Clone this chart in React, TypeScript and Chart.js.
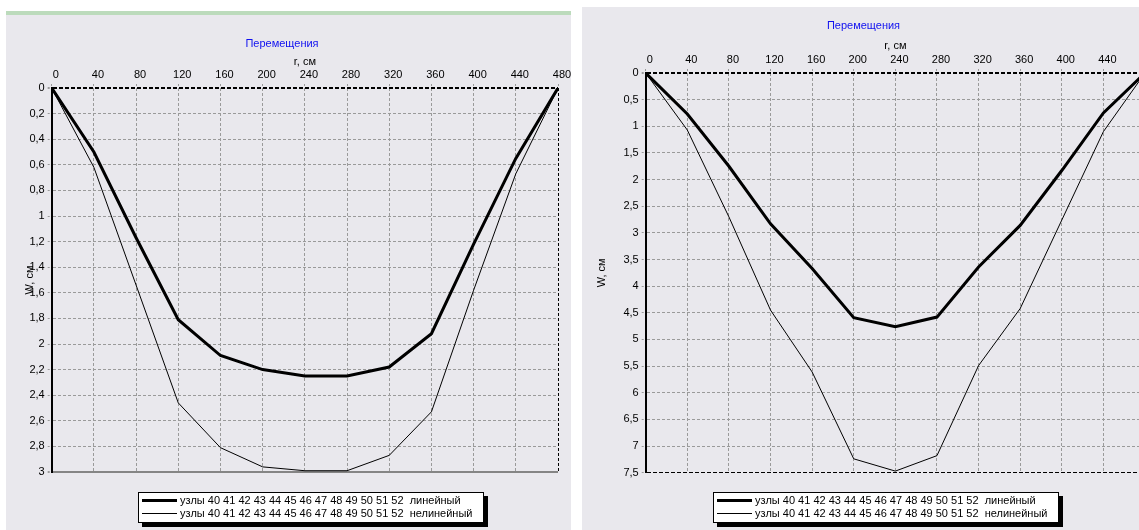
import React, { useEffect, useRef } from 'react';
import { Chart, registerables } from 'chart.js';

Chart.register(...registerables);

// ---------- data ----------
const rValues = [0, 40, 80, 120, 160, 200, 240, 280, 320, 360, 400, 440, 480];

const leftLinear = [0, 0.5, 1.17, 1.81, 2.09, 2.2, 2.25, 2.25, 2.18, 1.92, 1.22, 0.55, 0];
const leftNonlinear = [0, 0.62, 1.54, 2.46, 2.81, 2.96, 2.99, 2.99, 2.87, 2.53, 1.58, 0.67, 0];

const rightLinear = [0, 0.77, 1.75, 2.83, 3.67, 4.59, 4.76, 4.58, 3.64, 2.86, 1.83, 0.75, 0];
const rightNonlinear = [0, 1.07, 2.7, 4.45, 5.61, 7.24, 7.47, 7.18, 5.49, 4.42, 2.76, 1.1, 0];

const seriesNames = [
  'узлы 40 41 42 43 44 45 46 47 48 49 50 51 52  линейный',
  'узлы 40 41 42 43 44 45 46 47 48 49 50 51 52  нелинейный',
];
const chartTitle = 'Перемещения';
const xAxisTitle = 'r, см';
const yAxisTitle = 'W, см';

const xMax = 480;
const xStep = 40;
const leftYMax = 3;
const leftYStep = 0.2;
const rightYMax = 7.5;
const rightYStep = 0.5;

// ---------- styles ----------
const FONT_FAMILY = '"Liberation Sans", Arial, sans-serif';
const GRID_GRAY = '#9a9a9a';
const TITLE_BLUE = '#1010f0';
const PANEL_BG = '#e9e8ed';

const fmt = (v: number) => String(Math.round(v * 10) / 10).replace('.', ',');
const near = (a: number, b: number) => Math.abs(a - b) < 1e-6;

interface Params {
  linear: number[];
  nonlinear: number[];
  yMax: number;
  yStep: number;
  yAxisWidth: number;
  xAxisHeight: number;
  padRight: number;
  padBottom: number;
  titlePadTop: number;
  xTitlePadTop: number;
  yTitlePadTop: number;
  bottomColor: string;
  bottomWidth: number;
  bottomDash: number[];
}

function buildConfig(p: Params): any {
  const font = { family: FONT_FAMILY, size: 11, weight: 'normal' as const };
  return {
    type: 'line',
    data: {
      datasets: [
        {
          label: seriesNames[0],
          data: rValues.map((r, i) => ({ x: r, y: p.linear[i] })),
          borderColor: '#000',
          borderWidth: 3,
          pointRadius: 0,
          tension: 0,
          fill: false,
        },
        {
          label: seriesNames[1],
          data: rValues.map((r, i) => ({ x: r, y: p.nonlinear[i] })),
          borderColor: '#000',
          borderWidth: 1,
          pointRadius: 0,
          tension: 0,
          fill: false,
        },
      ],
    },
    options: {
      animation: false,
      responsive: false,
      devicePixelRatio: 1,
      layout: { padding: { left: 0, top: 0, right: p.padRight, bottom: p.padBottom } },
      plugins: {
        legend: { display: false },
        tooltip: { enabled: false },
        title: {
          display: true,
          text: chartTitle,
          color: TITLE_BLUE,
          font,
          padding: { top: p.titlePadTop, bottom: 0 },
        },
      },
      scales: {
        x: {
          type: 'linear',
          position: 'top',
          min: 0,
          max: xMax,
          afterFit: (s: any) => {
            s.height = p.xAxisHeight;
            s.paddingLeft = 0;
            s.paddingRight = 0;
          },
          ticks: {
            stepSize: xStep,
            color: '#000',
            font,
            padding: 2.5,
            labelOffset: 4,
            autoSkip: false,
            maxRotation: 0,
            callback: (v: number) => String(v),
          },
          grid: {
            color: (c: any) => (c.tick && near(c.tick.value, xMax) ? '#000' : GRID_GRAY),
            lineWidth: 1,
            tickLength: 4,
            tickColor: GRID_GRAY,
            tickBorderDash: [2, 2],
          },
          border: { display: false, dash: [3, 2] },
          title: {
            display: true,
            text: xAxisTitle,
            color: '#000',
            font,
            padding: { top: p.xTitlePadTop, bottom: 0 },
          },
        },
        y: {
          type: 'linear',
          position: 'left',
          reverse: true,
          min: 0,
          max: p.yMax,
          afterFit: (s: any) => {
            s.width = p.yAxisWidth;
            s.paddingTop = 0;
            s.paddingBottom = 0;
          },
          ticks: {
            stepSize: p.yStep,
            color: '#000',
            font,
            padding: 3,
            autoSkip: false,
            callback: (v: number) => fmt(v),
          },
          grid: {
            color: (c: any) => {
              if (!c.tick) return GRID_GRAY;
              if (near(c.tick.value, 0)) return '#000';
              if (near(c.tick.value, p.yMax)) return p.bottomColor;
              return GRID_GRAY;
            },
            lineWidth: (c: any) => {
              if (!c.tick) return 1;
              if (near(c.tick.value, 0)) return 2;
              if (near(c.tick.value, p.yMax)) return p.bottomWidth;
              return 1;
            },
            tickLength: 4,
            tickColor: GRID_GRAY,
            tickBorderDash: [2, 2],
          },
          border: {
            display: true,
            color: '#000',
            width: 2,
            dash: (c: any) => {
              if (!c.tick) return [3, 2];
              if (near(c.tick.value, 0)) return [4, 2];
              if (near(c.tick.value, p.yMax)) return p.bottomDash;
              return [3, 2];
            },
          },
          title: {
            display: true,
            text: yAxisTitle,
            color: '#000',
            font,
            padding: { top: p.yTitlePadTop, bottom: 0 },
          },
        },
      },
    },
  };
}

function Legend({ left }: { left: number }) {
  const row = (width: number, text: string) => (
    <div style={{ display: 'flex', alignItems: 'center', height: 13 }}>
      <div style={{ width: 35, height: width, background: '#000', marginLeft: 3, marginRight: 3 }} />
      <span style={{ whiteSpace: 'pre', lineHeight: '13px' }}>{text}</span>
    </div>
  );
  return (
    <div
      style={{
        position: 'absolute',
        left,
        top: 492,
        width: 346,
        height: 31,
        boxSizing: 'border-box',
        background: '#fff',
        border: '1px solid #000',
        boxShadow: '4px 4px 0 #000',
        font: `11px ${FONT_FAMILY}`,
        color: '#000',
        paddingTop: 1,
      }}
    >
      {row(3, seriesNames[0])}
      {row(1, seriesNames[1])}
    </div>
  );
}

export default function App() {
  const leftRef = useRef<HTMLCanvasElement>(null);
  const rightRef = useRef<HTMLCanvasElement>(null);

  useEffect(() => {
    const c1 = new Chart(
      leftRef.current as HTMLCanvasElement,
      buildConfig({
        linear: leftLinear,
        nonlinear: leftNonlinear,
        yMax: leftYMax,
        yStep: leftYStep,
        yAxisWidth: 45.7,
        xAxisHeight: 37.4,
        padRight: 18,
        padBottom: 58,
        titlePadTop: 22.4,
        xTitlePadTop: 4.8,
        yTitlePadTop: 17.4,
        bottomColor: '#858585',
        bottomWidth: 2,
        bottomDash: [],
      })
    );
    const c2 = new Chart(
      rightRef.current as HTMLCanvasElement,
      buildConfig({
        linear: rightLinear,
        nonlinear: rightNonlinear,
        yMax: rightYMax,
        yStep: rightYStep,
        yAxisWidth: 63.7,
        xAxisHeight: 40.7,
        padRight: 15,
        padBottom: 57.3,
        titlePadTop: 12.1,
        xTitlePadTop: 6.8,
        yTitlePadTop: 13.1,
        bottomColor: '#000',
        bottomWidth: 1,
        bottomDash: [4, 2],
      })
    );
    return () => {
      c1.destroy();
      c2.destroy();
    };
  }, []);

  return (
    <div
      style={{
        position: 'absolute',
        left: 0,
        top: 0,
        width: 1139,
        height: 530,
        overflow: 'hidden',
        background: '#fff',
      }}
    >
      {/* left panel */}
      <div style={{ position: 'absolute', left: 6, top: 11, width: 565, height: 4, background: '#bcdbbc' }} />
      <div style={{ position: 'absolute', left: 6, top: 15, width: 565, height: 515, background: PANEL_BG }} />
      {/* right panel */}
      <div style={{ position: 'absolute', left: 582, top: 7, width: 570, height: 523, background: PANEL_BG }} />
      <canvas
        ref={leftRef}
        width={570}
        height={515}
        style={{ position: 'absolute', left: 6, top: 15, width: 570, height: 515 }}
      />
      <canvas
        ref={rightRef}
        width={578}
        height={523}
        style={{ position: 'absolute', left: 582, top: 7, width: 578, height: 523 }}
      />
      <Legend left={138} />
      <Legend left={713} />
    </div>
  );
}
